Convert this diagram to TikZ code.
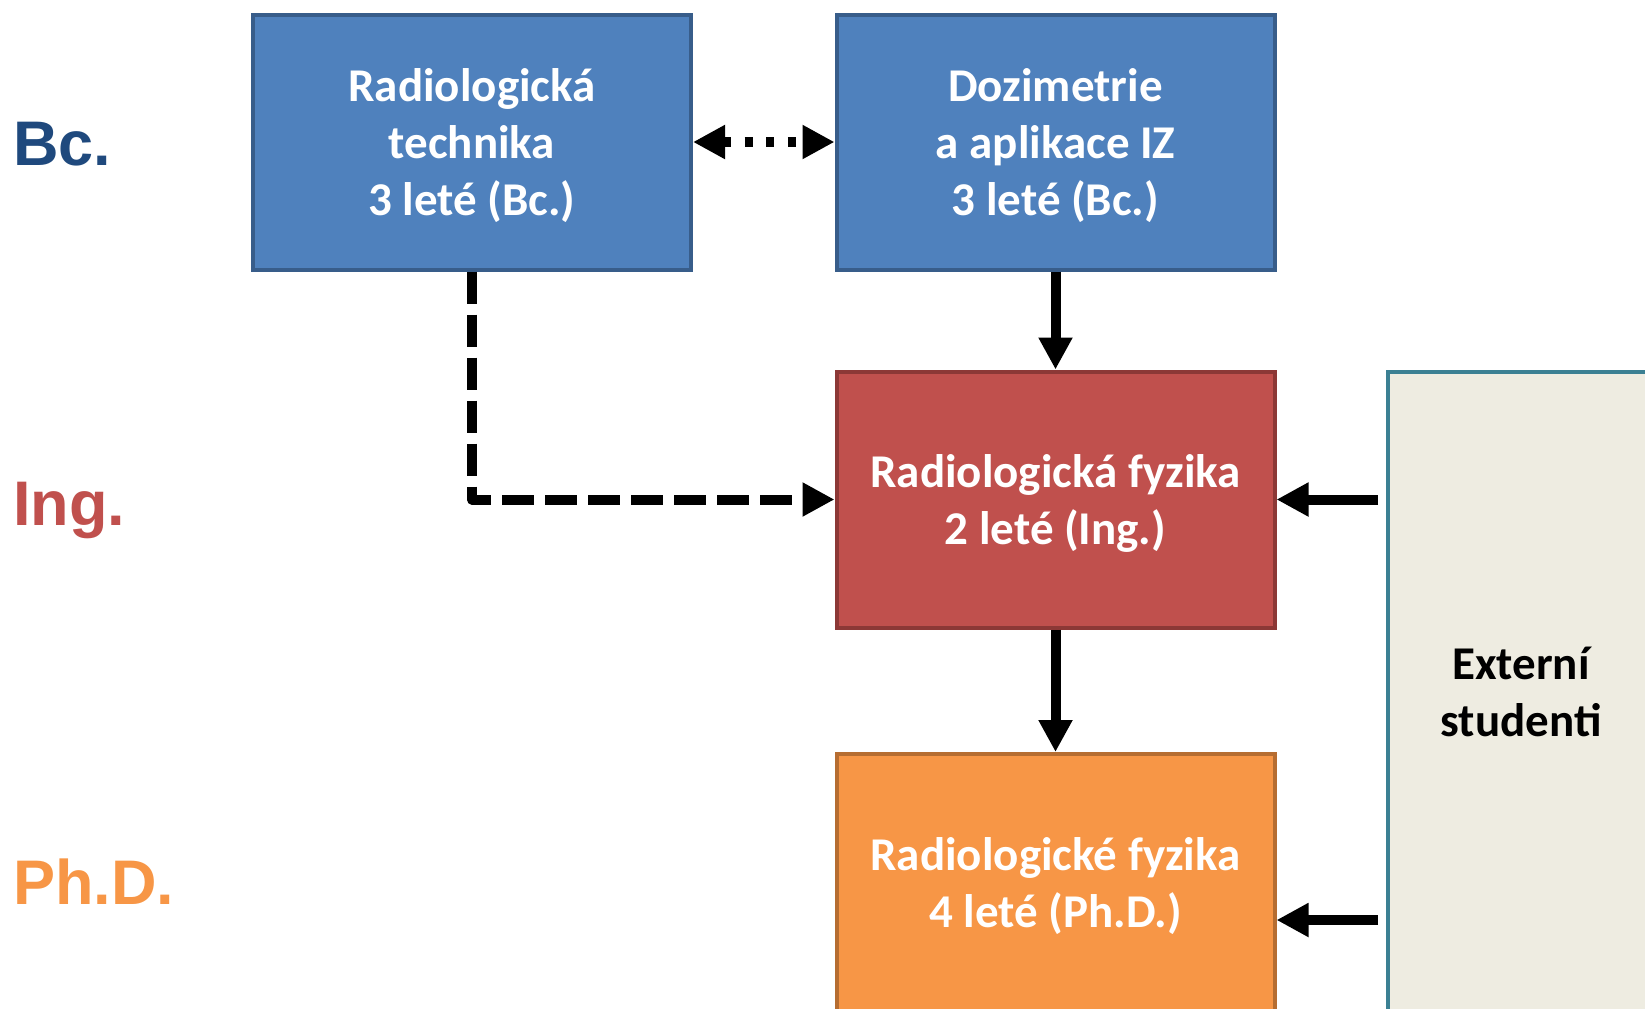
\documentclass[tikz,border=0pt]{standalone}
\usepackage{fontspec}
\setmainfont{Carlito}
\newfontfamily\levelfont{Liberation Sans}
\usetikzlibrary{positioning,arrows.meta}
\definecolor{bcblue}{HTML}{4F81BD}
\definecolor{bcborder}{HTML}{385D8A}
\definecolor{bctext}{HTML}{1F497D}
\definecolor{ingred}{HTML}{C0504D}
\definecolor{ingborder}{HTML}{8C3836}
\definecolor{phdorange}{HTML}{F79646}
\definecolor{phdborder}{HTML}{B66D31}
\definecolor{extfill}{HTML}{EEECE1}
\definecolor{extborder}{HTML}{3B8093}
\begin{document}
\begin{tikzpicture}
[x=0.5pt,y=-0.5pt,
 boxdecorate/.style={shape=rectangle,draw,line width=2pt,minimum width=219pt,%
   minimum height=127.5pt,inner sep=0pt},
 textdecorate/.style={align=center,text=white,inner sep=0pt,yshift=-1.8pt,%
   font=\bfseries\fontsize{23.5}{28.5}\selectfont},
 leveldecorate/.style={anchor=base west,inner sep=0pt,%
   font=\levelfont\bfseries\fontsize{31.5}{31.5}\selectfont},
 linedecorate/.style={line width=5pt,-{Triangle[length=16pt,width=16pt]}},
 dotdecorate/.style={line width=5pt,dash pattern=on 4pt off 6.8pt,%
   {Triangle[length=16pt,width=16pt]}-{Triangle[length=16pt,width=16pt]}},
 dashdecorate/.style={line width=5pt,dash pattern=on 16pt off 5.5pt,line join=round,%
   -{Triangle[length=16pt,width=16pt]}}]
\useasboundingbox (0,0) rectangle (1645,1008);
% levels
\node (bc) at (13,165) [leveldecorate,text=bctext] {Bc.};
\node (ing) at (13,525) [leveldecorate,text=ingred] {Ing.};
\node (phd) at (13,904) [leveldecorate,text=phdorange] {Ph.D.};
% study programmes
\node (radtech) at (472,142) [boxdecorate,fill=bcblue,draw=bcborder,
  label={[textdecorate]center:Radiologická\\technika\\3 leté (Bc.)}] {};
\node (dozi) at (1055.5,142) [boxdecorate,fill=bcblue,draw=bcborder,
  label={[textdecorate]center:Dozimetrie\\a aplikace IZ\\3 leté (Bc.)}] {};
\node (ingfyz) at (1055.5,499.5) [boxdecorate,fill=ingred,draw=ingborder,minimum height=128pt,
  label={[textdecorate,yshift=-0.2pt]center:Radiologická fyzika\\2 leté (Ing.)}] {};
\node (phdfyz) at (1055.5,884) [boxdecorate,fill=phdorange,draw=phdborder,minimum height=130pt,
  label={[textdecorate,yshift=0.6pt]center:Radiologické fyzika\\4 leté (Ph.D.)}] {};
\node (ext) at (1521,692) [boxdecorate,fill=extfill,draw=extborder,
  minimum width=133pt,minimum height=320pt,
  label={[textdecorate,text=black,yshift=1.8pt]center:Externí\\studenti}] {};
% entry points from outside
\coordinate (ingin) at (1378,499.5);
\coordinate (phdin) at (1378,920);
% connectors
\draw [dotdecorate] (radtech) -- (dozi);
\draw [dashdecorate] (radtech.south) |- (ingfyz.west);
\draw [linedecorate] (dozi) -- (ingfyz);
\draw [linedecorate] (ingfyz) -- (phdfyz);
\draw [linedecorate] (ingin) -- (ingin -| ingfyz.east);
\draw [linedecorate] (phdin) -- (phdin -| phdfyz.east);
\end{tikzpicture}
\end{document}
